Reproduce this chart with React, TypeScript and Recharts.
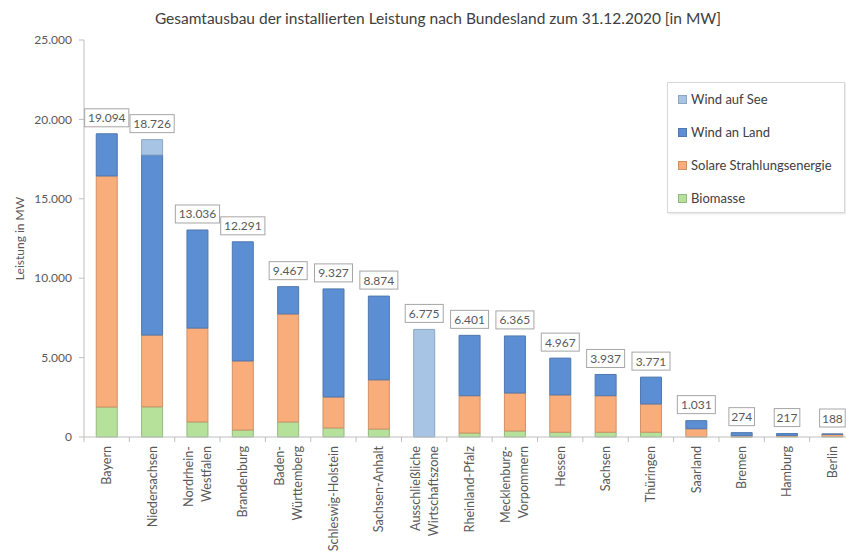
import { BarChart, Bar, XAxis, YAxis, LabelList } from "recharts";

const categories = [
  "Bayern",
  "Niedersachsen",
  "Nordrhein-\nWestfalen",
  "Brandenburg",
  "Baden-\nWürttemberg",
  "Schleswig-Holstein",
  "Sachsen-Anhalt",
  "Ausschließliche\nWirtschaftszone",
  "Rheinland-Pfalz",
  "Mecklenburg-\nVorpommern",
  "Hessen",
  "Sachsen",
  "Thüringen",
  "Saarland",
  "Bremen",
  "Hamburg",
  "Berlin",
];

const biomasse = [1890, 1900, 950, 440, 950, 570, 500, 0, 250, 380, 300, 300, 300, 20, 14, 30, 50];
const solar = [14550, 4520, 5910, 4350, 6800, 1950, 3100, 0, 2350, 2390, 2350, 2300, 1780, 500, 60, 70, 125];
const windLand = [2654, 11340, 6176, 7501, 1717, 6807, 5274, 0, 3801, 3595, 2317, 1337, 1691, 511, 200, 117, 13];
const windSee = [0, 966, 0, 0, 0, 0, 0, 6775, 0, 0, 0, 0, 0, 0, 0, 0, 0];
const totals = [19094, 18726, 13036, 12291, 9467, 9327, 8874, 6775, 6401, 6365, 4967, 3937, 3771, 1031, 274, 217, 188];

const yTicks = [0, 5000, 10000, 15000, 20000, 25000];

const data = categories.map((name, i) => ({
  name,
  biomasse: biomasse[i],
  solar: solar[i],
  windLand: windLand[i],
  windSee: windSee[i],
}));

const series = [
  { key: "biomasse", label: "Biomasse", fill: "#b6e19b", stroke: "#93b97f", values: biomasse },
  { key: "solar", label: "Solare Strahlungsenergie", fill: "#f9ad7a", stroke: "#cf9168", values: solar },
  { key: "windLand", label: "Wind an Land", fill: "#5b8ed2", stroke: "#5078ae", values: windLand },
  { key: "windSee", label: "Wind auf See", fill: "#a8c4e5", stroke: "#8da6c2", values: windSee },
];

const FONT = "Lato, 'Liberation Sans', sans-serif";
const W = 872;
const H = 555;
const MARGIN = { top: 40, right: 17, left: 10, bottom: 8 };
const Y_W = 74;
const X_H = 110;
const TICK_SIZE = 5;
const TICK_MARGIN = 4;
const band = (W - MARGIN.left - MARGIN.right - Y_W) / categories.length;

const fmt = (v: number) => String(v).replace(/\B(?=(\d{3})+(?!\d))/g, ".");

// top non-zero series of a category carries the total label
const topSeries = (i: number) => {
  let top = "";
  series.forEach((s) => {
    if (s.values[i] > 0) top = s.key;
  });
  return top;
};

const XTick = ({ x, y, payload, index }: any) => {
  const lines = String(payload.value).split("\n");
  const axisY = y - TICK_SIZE - TICK_MARGIN;
  return (
    <g>
      {index === 0 && (
        <line x1={x - band / 2} x2={x - band / 2} y1={axisY} y2={axisY + TICK_SIZE} stroke="#bfbfbf" />
      )}
      <line x1={x + band / 2} x2={x + band / 2} y1={axisY} y2={axisY + TICK_SIZE} stroke="#bfbfbf" />
      {lines.map((line, i) => {
        const lx = x + (i - (lines.length - 1) / 2) * 18;
        return (
          <text
            key={i}
            transform={`translate(${lx},${y}) rotate(-90)`}
            textAnchor="end"
            dominantBaseline="central"
            fontSize={12.6}
            fill="#595959"
          >
            {line}
          </text>
        );
      })}
    </g>
  );
};

const TotalLabel = (props: any) => {
  const { x, y, width, value, seriesKey } = props;
  const i = categories.indexOf(String(value));
  if (i < 0 || topSeries(i) !== seriesKey) return null;
  const text = fmt(totals[i]);
  const bw = text.length * 6.2 + 7;
  const cx = Number(x) + Number(width) / 2;
  const bottom = Number(y) - 7;
  return (
    <g>
      <rect x={cx - bw / 2} y={bottom - 18} width={bw} height={18} fill="#ffffff" stroke="#a6a6a6" />
      <text x={cx} y={bottom - 9} textAnchor="middle" dominantBaseline="central" fontSize={12} fill="#595959">
        {text}
      </text>
    </g>
  );
};

const YLabel = (props: any) => {
  const vb = props.viewBox || { x: MARGIN.left, y: MARGIN.top, width: Y_W, height: 397 };
  const lx = vb.x + 9;
  const ly = vb.y + vb.height / 2;
  return (
    <text
      x={lx}
      y={ly}
      transform={`rotate(-90, ${lx}, ${ly})`}
      textAnchor="middle"
      dominantBaseline="central"
      fontSize={12}
      fill="#595959"
    >
      Leistung in MW
    </text>
  );
};

export default function App() {
  return (
    <div
      style={{
        position: "absolute",
        left: 0,
        top: 0,
        width: 846,
        height: 555,
        overflow: "hidden",
        background: "#ffffff",
        fontFamily: FONT,
      }}
    >
      <div
        style={{
          position: "absolute",
          top: 9,
          left: 0,
          width: 876,
          textAlign: "center",
          fontSize: 15.5,
          lineHeight: "18px",
          color: "#404040",
        }}
      >
        Gesamtausbau der installierten Leistung nach Bundesland zum 31.12.2020 [in MW]
      </div>
      <BarChart width={W} height={H} data={data} margin={MARGIN} barCategoryGap="27%">
        <XAxis
          dataKey="name"
          interval={0}
          height={X_H}
          tickSize={TICK_SIZE}
          tickMargin={TICK_MARGIN}
          tickLine={false}
          axisLine={{ stroke: "#bfbfbf" }}
          tick={<XTick />}
        />
        <YAxis
          width={Y_W}
          domain={[0, 25000]}
          ticks={yTicks}
          tickFormatter={fmt}
          tickSize={TICK_SIZE}
          tickMargin={7}
          axisLine={{ stroke: "#bfbfbf" }}
          tickLine={{ stroke: "#bfbfbf" }}
          tick={{ fill: "#595959", fontSize: 12 }}
          label={<YLabel />}
        />
        {series.map((s) => (
          <Bar
            key={s.key}
            dataKey={s.key}
            name={s.label}
            stackId="a"
            fill={s.fill}
            stroke={s.stroke}
            strokeWidth={1}
            isAnimationActive={false}
          >
            <LabelList dataKey={(d: any) => d.name} content={<TotalLabel seriesKey={s.key} />} />
          </Bar>
        ))}
      </BarChart>
      <div
        style={{
          position: "absolute",
          left: 667,
          top: 82,
          width: 178,
          height: 131,
          boxSizing: "border-box",
          border: "1px solid #d9d9d9",
          boxShadow: "1px 1px 2px rgba(0,0,0,0.12)",
          background: "#ffffff",
          paddingTop: 8,
        }}
      >
        {[...series].reverse().map((s) => (
          <div key={s.key} style={{ height: 33, display: "flex", alignItems: "flex-start" }}>
            <div style={{ display: "flex", alignItems: "center", height: 16 }}>
              <span
                style={{
                  display: "inline-block",
                  width: 7,
                  height: 7,
                  marginLeft: 10,
                  marginRight: 4,
                  background: s.fill,
                  border: `1px solid ${s.stroke}`,
                }}
              />
              <span style={{ fontSize: 13, color: "#404040", whiteSpace: "nowrap" }}>{s.label}</span>
            </div>
          </div>
        ))}
      </div>
    </div>
  );
}
